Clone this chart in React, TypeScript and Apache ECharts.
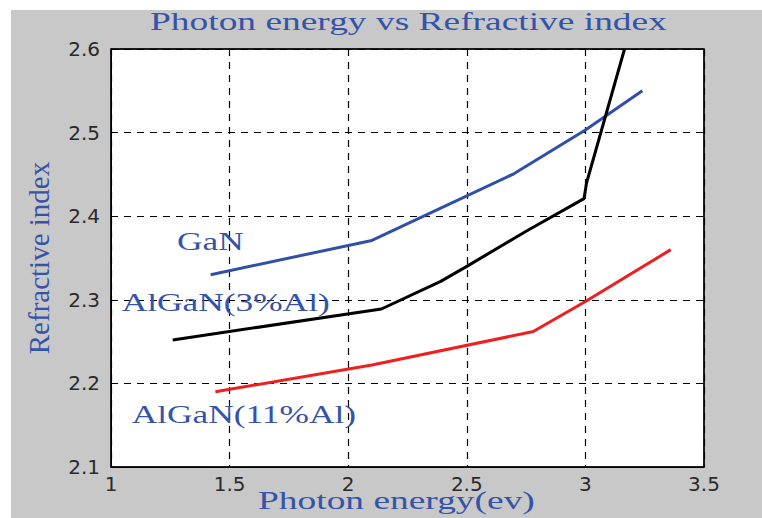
import React, { useEffect, useRef } from "react";
import * as echarts from "echarts";

const ganData: [number, number][] = [
  [1.42, 2.33],
  [2.1, 2.371],
  [2.7, 2.451],
  [3.0, 2.503],
  [3.24, 2.55],
];
const algan3Data: [number, number][] = [
  [1.26, 2.252],
  [2.14, 2.289],
  [2.39, 2.322],
  [2.5, 2.34],
  [2.75, 2.382],
  [2.994, 2.421],
  [3.005, 2.44],
  [3.165, 2.6],
];
const algan11Data: [number, number][] = [
  [1.44, 2.19],
  [2.1, 2.222],
  [2.78, 2.262],
  [3.0, 2.298],
  [3.36, 2.36],
];
const curveLabels = ["GaN", "AlGaN(3%Al)", "AlGaN(11%Al)"];
const curveLabelPos: [number, number][] = [
  [1.278, 2.3697],
  [1.045, 2.297],
  [1.087, 2.163],
];
const titleText = "Photon energy vs Refractive index";
const xAxisName = "Photon energy(ev)";
const yAxisName = "Refractive index";

const BLUE_TEXT = "#3553a8";
const SERIF = "Liberation Serif";

export default function App() {
  const ref = useRef<HTMLDivElement>(null);
  useEffect(() => {
    if (!ref.current) return;
    const chart = echarts.init(ref.current, null, { renderer: "svg" });
    chart.setOption({
      animation: false,
      backgroundColor: "#ffffff",
      grid: {
        left: 111,
        top: 49,
        right: 58,
        bottom: 51,
        show: true,
        backgroundColor: "#ffffff",
        borderColor: "#000",
        borderWidth: 1,
      },
      graphic: [
        {
          type: "rect",
          z: -10,
          silent: true,
          shape: { x: 11, y: 10, width: 751, height: 508 },
          style: { fill: "#c8c8c8" },
        },
        {
          type: "rect",
          z: 0,
          silent: true,
          shape: { x: 111, y: 49, width: 593, height: 418 },
          style: { fill: "none", stroke: "#000", lineWidth: 1.5 },
        },
        {
          type: "text",
          x: 150,
          y: 21,
          scaleX: 1.44,
          style: {
            text: titleText,
            font: `26px "${SERIF}"`,
            fill: BLUE_TEXT,
            align: "left",
            verticalAlign: "middle",
          },
        },
        {
          type: "text",
          x: 258,
          y: 500,
          scaleX: 1.44,
          style: {
            text: xAxisName,
            font: `26px "${SERIF}"`,
            fill: BLUE_TEXT,
            align: "left",
            verticalAlign: "middle",
          },
        },
      ],
      xAxis: {
        type: "value",
        min: 1,
        max: 3.5,
        interval: 0.5,
        axisLine: { show: true, lineStyle: { color: "#000", width: 1 } },
        axisTick: { show: false },
        axisLabel: {
          color: "#2a2a2a",
          fontFamily: "DejaVu Sans",
          fontSize: 20,
          margin: 7,
        },
        splitLine: {
          show: true,
          lineStyle: { color: "#000", type: [7, 6], width: 1.2 },
        },
      },
      yAxis: {
        type: "value",
        min: 2.1,
        max: 2.6,
        interval: 0.1,
        name: yAxisName,
        nameLocation: "middle",
        nameGap: 58,
        nameTextStyle: {
          color: BLUE_TEXT,
          fontFamily: SERIF,
          fontSize: 29,
        },
        axisLine: { show: true, lineStyle: { color: "#000", width: 1 } },
        axisTick: { show: false },
        axisLabel: {
          color: "#2a2a2a",
          fontFamily: "DejaVu Sans",
          fontSize: 20,
          margin: 11,
          formatter: (v: number) => v.toFixed(1),
        },
        splitLine: {
          show: true,
          lineStyle: { color: "#000", type: [7, 6], width: 1.2 },
        },
      },
      series: [
        {
          type: "line",
          name: "GaN",
          data: ganData,
          symbol: "none",
          lineStyle: { color: "#2f4fa8", width: 3 },
          z: 3,
        },
        {
          type: "line",
          name: "AlGaN(3%Al)",
          data: algan3Data,
          symbol: "none",
          lineStyle: { color: "#000000", width: 3 },
          z: 3,
        },
        {
          type: "line",
          name: "AlGaN(11%Al)",
          data: algan11Data,
          symbol: "none",
          lineStyle: { color: "#f01e1e", width: 3 },
          z: 3,
        },
        {
          type: "custom",
          clip: false,
          z: 4,
          data: curveLabelPos,
          renderItem: (params: any, api: any) => {
            const p = api.coord([api.value(0), api.value(1)]);
            return {
              type: "text",
              x: p[0],
              y: p[1],
              scaleX: 1.36,
              style: {
                text: curveLabels[params.dataIndex],
                font: `26px "${SERIF}"`,
                fill: BLUE_TEXT,
                align: "left",
                verticalAlign: "middle",
              },
            };
          },
        },
      ],
    });
    return () => chart.dispose();
  }, []);
  return (
    <div
      ref={ref}
      style={{ position: "absolute", left: 0, top: 0, width: 762, height: 518 }}
    />
  );
}
